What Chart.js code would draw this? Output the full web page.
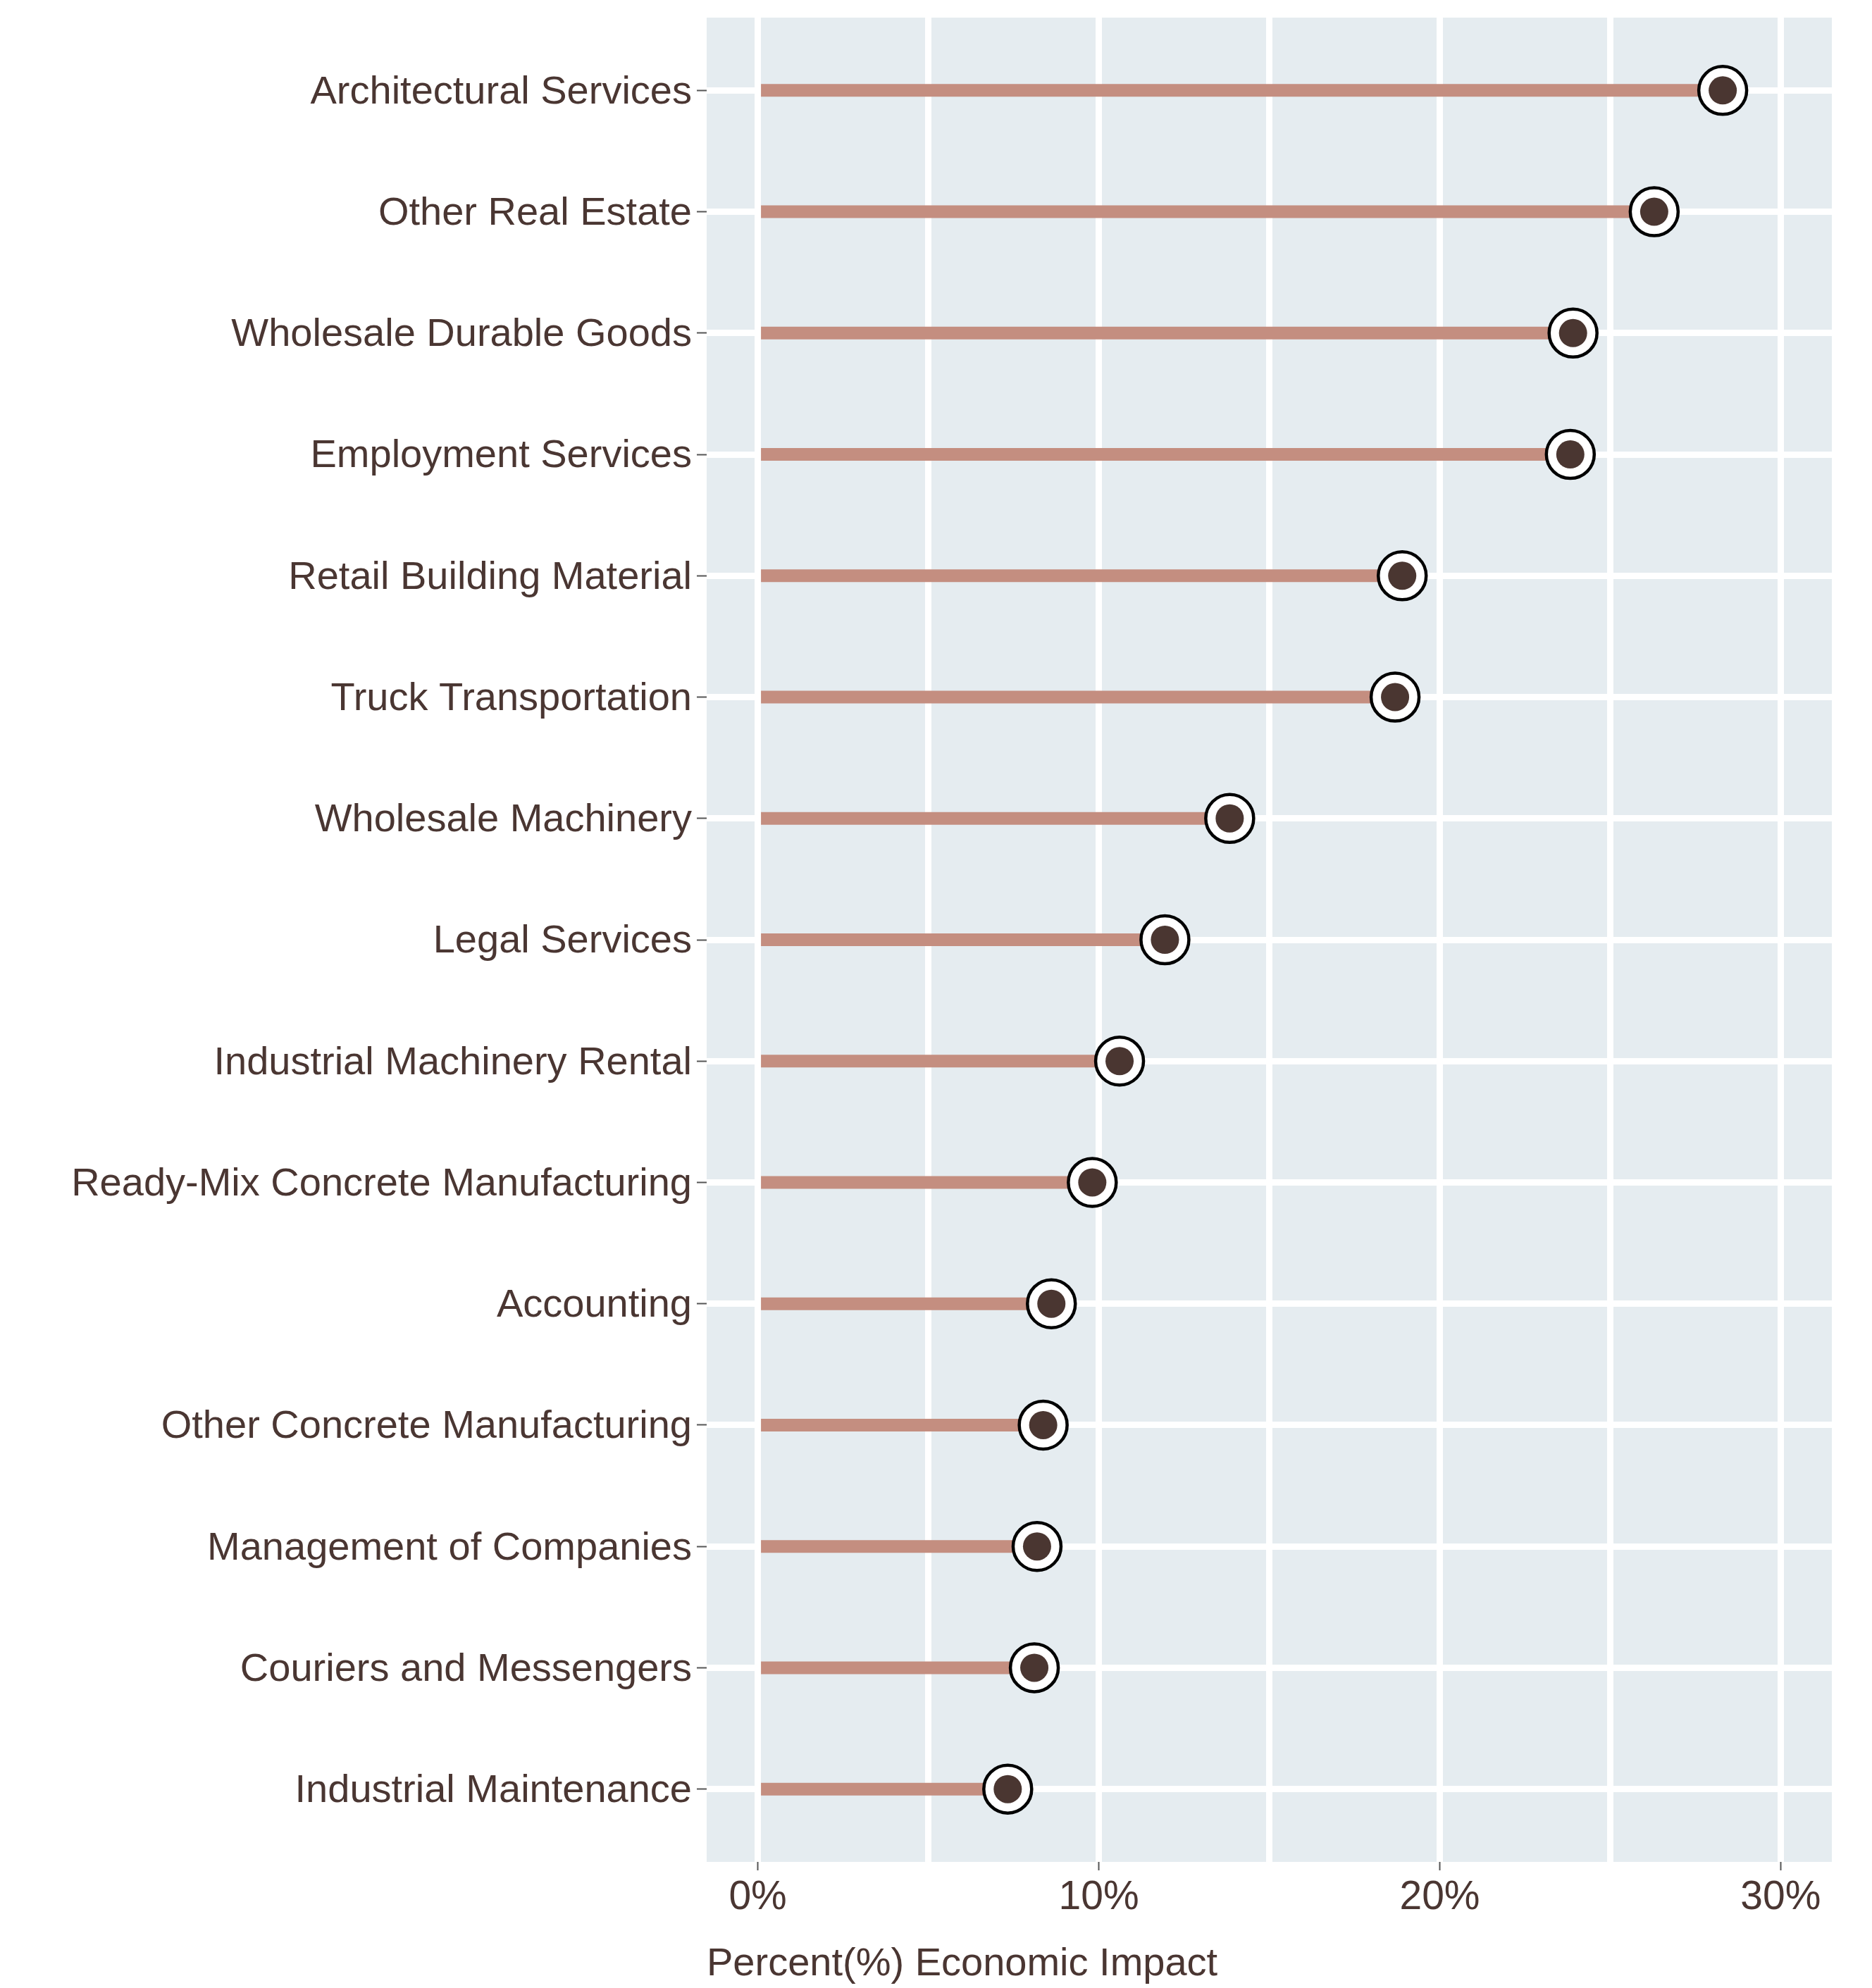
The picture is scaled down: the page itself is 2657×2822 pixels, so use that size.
<!DOCTYPE html>
<html>
<head>
<meta charset="utf-8">
<script src="https://cdn.jsdelivr.net/npm/chart.js@4.4.1/dist/chart.umd.min.js"></script>
<style>
  html, body { margin: 0; padding: 0; background: #ffffff; }
  #wrap { width: 2657px; height: 2822px; }
</style>
</head>
<body>
<div id="wrap"><canvas id="c" width="2657" height="2822"></canvas></div>
<script>
const categories = [
  "Architectural Services",
  "Other Real Estate",
  "Wholesale Durable Goods",
  "Employment Services",
  "Retail Building Material",
  "Truck Transportation",
  "Wholesale Machinery",
  "Legal Services",
  "Industrial Machinery Rental",
  "Ready-Mix Concrete Manufacturing",
  "Accounting",
  "Other Concrete Manufacturing",
  "Management of Companies",
  "Couriers and Messengers",
  "Industrial Maintenance"
];
const impactPct = [28.3, 26.29, 23.91, 23.83, 18.9, 18.69, 13.84, 11.94, 10.61, 9.81, 8.61, 8.37, 8.19, 8.11, 7.33];
const xTickValues = [0, 5, 10, 15, 20, 25, 30];
const xTickLabels = { 0: "0%", 10: "10%", 20: "20%", 30: "30%" };
const xAxisTitle = "Percent(%) Economic Impact";

const TEXT = '#4A3632';
const FONT = "'Liberation Sans', Arial, Helvetica, sans-serif";

const points = impactPct.map((v, i) => ({ x: v, y: i }));

const panelBg = {
  id: 'panelBg',
  beforeDraw(chart) {
    const { ctx, chartArea: a } = chart;
    ctx.save();
    ctx.fillStyle = '#E5ECF0';
    ctx.fillRect(a.left, a.top, a.right - a.left, a.bottom - a.top);
    ctx.restore();
  }
};

new Chart(document.getElementById('c'), {
  type: 'bar',
  data: {
    datasets: [
      {
        type: 'scatter',
        data: points,
        pointRadius: 20,
        pointHoverRadius: 20,
        pointBackgroundColor: '#4A3631',
        pointBorderWidth: 0,
        borderWidth: 0,
        order: 1
      },
      {
        type: 'scatter',
        data: points,
        pointRadius: 34,
        pointHoverRadius: 34,
        pointBackgroundColor: '#FFFFFF',
        pointBorderColor: '#000000',
        pointBorderWidth: 4.5,
        order: 2
      },
      {
        type: 'bar',
        data: points,
        backgroundColor: '#C48E80',
        borderWidth: 0,
        inflateAmount: 0,
        barThickness: 18,
        order: 3
      }
    ]
  },
  options: {
    indexAxis: 'y',
    responsive: false,
    animation: false,
    events: [],
    layout: { autoPadding: false, padding: { left: 0, right: 57, top: 25, bottom: 0 } },
    plugins: {
      legend: { display: false },
      tooltip: { enabled: false },
      title: { display: false }
    },
    scales: {
      x: {
        type: 'linear',
        position: 'bottom',
        min: -1.5,
        max: 31.5,
        offset: false,
        afterBuildTicks: (s) => { s.ticks = xTickValues.map(v => ({ value: v })); },
        afterFit: (s) => { s.height = 179; s.paddingLeft = 0; s.paddingRight = 0; },
        border: { display: false },
        grid: {
          offset: false,
          color: '#FFFFFF',
          lineWidth: 9,
          drawTicks: true,
          tickLength: 12,
          tickWidth: 2,
          tickColor: (ctx) => (ctx.tick && xTickLabels[ctx.tick.value] !== undefined) ? '#555555' : 'rgba(0,0,0,0)'
        },
        ticks: {
          autoSkip: false,
          maxRotation: 0,
          padding: 5,
          color: TEXT,
          font: { family: FONT, size: 57 },
          callback: (v) => xTickLabels[v] !== undefined ? xTickLabels[v] : ''
        },
        title: {
          display: true,
          text: xAxisTitle,
          align: 'start',
          color: TEXT,
          font: { family: FONT, size: 56 },
          padding: { top: 0, bottom: 0 }
        }
      },
      y: {
        type: 'linear',
        reverse: true,
        min: -0.6,
        max: 14.6,
        offset: false,
        afterBuildTicks: (s) => { s.ticks = categories.map((c, i) => ({ value: i })); },
        afterFit: (s) => { s.width = 1003; s.paddingTop = 0; s.paddingBottom = 0; },
        border: { display: false },
        grid: {
          offset: false,
          color: '#FFFFFF',
          lineWidth: 9,
          drawTicks: true,
          tickLength: 14,
          tickWidth: 2,
          tickColor: '#555555'
        },
        ticks: {
          autoSkip: false,
          padding: 7,
          labelOffset: 3,
          color: TEXT,
          font: { family: FONT, size: 56 },
          callback: (v) => categories[v] !== undefined ? categories[v] : ''
        }
      }
    }
  },
  plugins: [panelBg]
});
</script>
</body>
</html>
